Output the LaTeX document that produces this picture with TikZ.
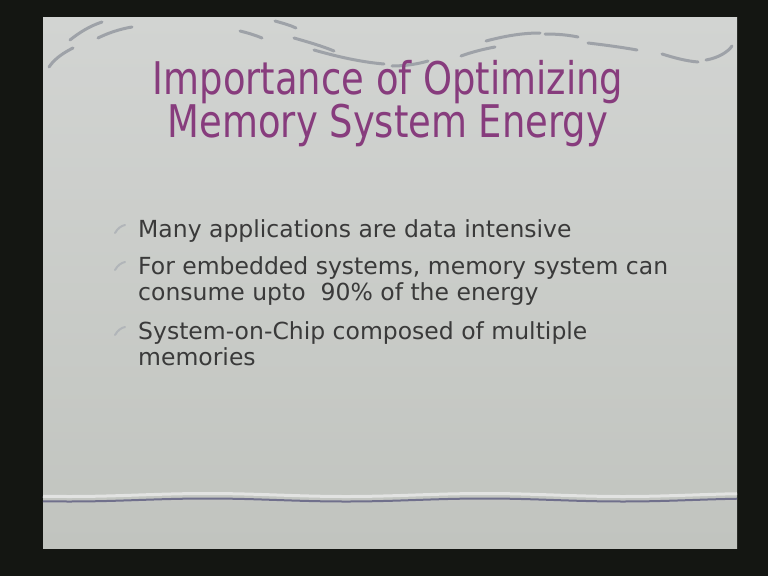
\documentclass[tikz,border=0pt]{standalone}
\usepackage{fontspec}
\setmainfont[FakeStretch=0.82]{DejaVu Sans}
\newfontfamily\bodyfont{DejaVu Sans}
\definecolor{framedark}{RGB}{20,22,18}
\definecolor{slidetop}{RGB}{210,212,210}
\definecolor{slidebot}{RGB}{193,196,191}
\definecolor{titleplum}{RGB}{135,60,125}
\definecolor{bodygray}{RGB}{58,58,58}
\definecolor{swirlgray}{RGB}{158,162,168}
\definecolor{rulegray}{RGB}{112,112,140}
\tikzset{
  swirl/.style={draw=swirlgray, line width=3pt, line cap=round},
  bullettext/.style={anchor=north west, inner sep=0pt, align=left, text=bodygray,
    font=\bodyfont\fontsize{23.5}{26}\selectfont},
  bulletmk/.style={draw=swirlgray!80, line width=2pt, line cap=round}
}
\begin{document}
\begin{tikzpicture}[x=1pt,y=-1pt]
  \useasboundingbox (0,0) rectangle (768,576);
  \fill[framedark] (0,0) rectangle (768,576);
  % slide
  \shade[top color=slidetop, bottom color=slidebot] (43,17) rectangle (737,548);
  % swirls at the top
  \draw[swirl] (49,67) .. controls (55,58) and (65,52) .. (73,48);
  \draw[swirl] (70,40) .. controls (80,32) and (90,26) .. (102,22);
  \draw[swirl] (98,38) .. controls (108,33) and (120,29) .. (132,27);
  \draw[swirl] (240,31) .. controls (248,33) and (255,35) .. (262,38);
  \draw[swirl] (275,21) .. controls (282,23) and (290,25) .. (296,28);
  \draw[swirl] (294,38) .. controls (308,42) and (322,46) .. (334,51);
  \draw[swirl] (314,50) .. controls (335,56) and (360,62) .. (384,64);
  \draw[swirl] (392,66) .. controls (405,66) and (418,64) .. (428,61);
  \draw[swirl] (461,56) .. controls (472,52) and (484,49) .. (495,47);
  \draw[swirl] (486,41) .. controls (505,36) and (522,33) .. (540,33);
  \draw[swirl] (545,34) .. controls (558,34) and (568,35) .. (578,37);
  \draw[swirl] (588,43) .. controls (605,45) and (620,47) .. (637,50);
  \draw[swirl] (662,54) .. controls (675,58) and (686,61) .. (698,62);
  \draw[swirl] (706,60) .. controls (718,58) and (728,52) .. (732,46);
  % title
  \node[text=titleplum, align=center, font=\fontsize{45}{43}\selectfont] (title) at (388,104)
    {Importance of Optimizing\\Memory System Energy};
  % bullets
  \node[bullettext] (b1) at (138,219) {Many applications are data intensive};
  \node[bullettext] (b2) at (138,256) {For embedded systems, memory system can\\consume upto \ 90\% of the energy};
  \node[bullettext] (b3) at (138,321) {System-on-Chip composed of multiple\\memories};
  \foreach \b in {b1,b2,b3}
    \draw[bulletmk] ([xshift=-23pt,yshift=-14pt]\b.north west) .. controls ([xshift=-20pt,yshift=-9pt]\b.north west) and ([xshift=-17pt,yshift=-7pt]\b.north west) .. ([xshift=-13pt,yshift=-6pt]\b.north west);
  % bottom rule
  \draw[white!35!slidetop, line width=3pt] plot[domain=43:737, samples=80] (\x, {495+1.5*sin(\x*1.3)});
  \draw[rulegray, line width=2pt] plot[domain=43:737, samples=80] (\x, {500+1.5*sin(\x*1.3)});
\end{tikzpicture}
\end{document}
